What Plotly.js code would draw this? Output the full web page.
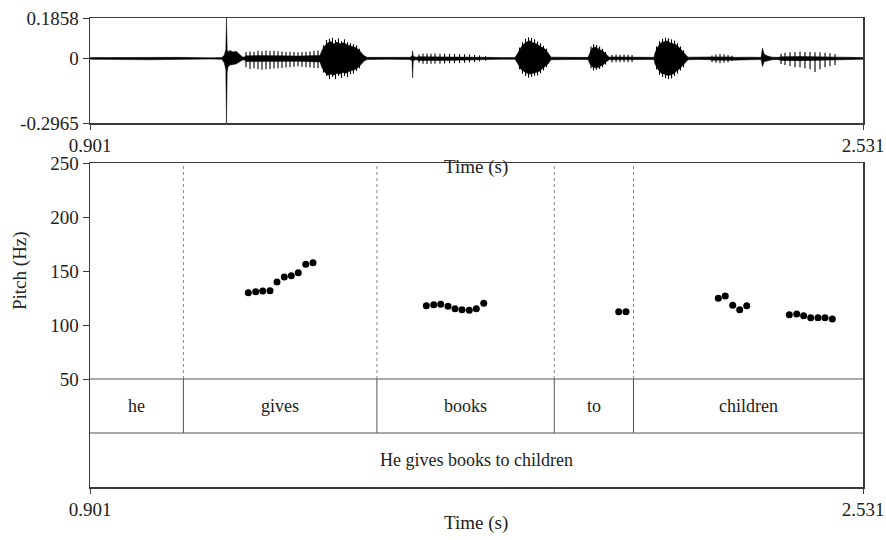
<!DOCTYPE html>
<html>
<head>
<meta charset="utf-8">
<script src="https://cdn.plot.ly/plotly-3.0.1.min.js"></script>
<style>
  html, body { margin: 0; padding: 0; background: #fff; }
  #chart { width: 886px; height: 540px; }
</style>
</head>
<body>
<div id="chart"></div>
<script>
// Time window of the excerpt (s)
const tStart = 0.901;
const tEnd = 2.531;

// Waveform core envelope: time (s), upper and lower extremes
const envT = [
  0.901, 0.964, 1.028, 1.091, 1.154, 1.179,
  1.184, 1.1874, 1.1888, 1.1903, 1.192,
  1.196, 1.203, 1.209, 1.215, 1.222,
  1.2257, 1.2300, 1.2600, 1.3000, 1.3400, 1.3859,
  1.3902, 1.3965, 1.4028, 1.4091, 1.4155, 1.4218, 1.4281, 1.4344, 1.4408, 1.4471,
  1.4534, 1.4598, 1.4661, 1.4724, 1.4787, 1.4851,
  1.5336, 1.5758, 1.5800, 1.5813, 1.5827,
  1.5884, 1.5947, 1.6500, 1.7350, 1.7435,
  1.7655, 1.7972,
  1.8035, 1.8099, 1.8162, 1.8225, 1.8288, 1.8352, 1.8415, 1.8478, 1.8541, 1.8605, 1.8668, 1.8731,
  1.9132, 1.9512,
  1.9554, 1.9596, 1.9660, 1.9723, 1.9786, 1.9849, 1.9913, 1.9955,
  2.0018, 2.0440, 2.0482,
  2.0713, 2.0903,
  2.0924, 2.0987, 2.1051, 2.1114, 2.1177, 2.1241, 2.1304, 2.1367, 2.1430, 2.1494, 2.1557, 2.1620,
  2.1852,
  2.2084, 2.2126, 2.2548, 2.2611,
  2.2928, 2.3160,
  2.3191, 2.3223, 2.3286, 2.3392,
  2.3518, 2.3581, 2.4000, 2.4298, 2.4720, 2.4783, 2.4867, 2.5078, 2.531
];
const envHi = [
  0.004, 0.005, 0.006, 0.005, 0.003, 0.004,
  0.015, 0.040, 0.1858, 0.040, 0.030,
  0.036, 0.030, 0.033, 0.022, 0.008,
  0.006, 0.012, 0.013, 0.012, 0.011, 0.014,
  0.038, 0.060, 0.072, 0.078, 0.066, 0.075, 0.068, 0.072, 0.064, 0.060,
  0.055, 0.051, 0.043, 0.030, 0.013, 0.005,
  0.004, 0.005, 0.010, 0.035, 0.010,
  0.006, 0.008, 0.008, 0.007, 0.005,
  0.004, 0.004,
  0.026, 0.051, 0.068, 0.077, 0.081, 0.072, 0.068, 0.060, 0.051, 0.043, 0.026, 0.006,
  0.005, 0.005,
  0.026, 0.047, 0.053, 0.047, 0.038, 0.030, 0.013, 0.006,
  0.007, 0.007, 0.005,
  0.005, 0.005,
  0.026, 0.055, 0.072, 0.077, 0.081, 0.072, 0.068, 0.064, 0.051, 0.038, 0.021, 0.006,
  0.005,
  0.006, 0.007, 0.007, 0.005,
  0.006, 0.005,
  0.048, 0.020, 0.012, 0.006,
  0.005, 0.008, 0.009, 0.009, 0.008, 0.006, 0.006, 0.005, 0.004
];
const envLo = [
  -0.004, -0.005, -0.006, -0.005, -0.003, -0.004,
  -0.020, -0.050, -0.2965, -0.060, -0.040,
  -0.030, -0.028, -0.025, -0.018, -0.008,
  -0.006, -0.014, -0.015, -0.014, -0.013, -0.016,
  -0.043, -0.064, -0.077, -0.072, -0.077, -0.068, -0.072, -0.064, -0.068, -0.060,
  -0.055, -0.051, -0.043, -0.030, -0.013, -0.005,
  -0.004, -0.005, -0.010, -0.090, -0.010,
  -0.006, -0.009, -0.009, -0.008, -0.005,
  -0.004, -0.004,
  -0.026, -0.051, -0.060, -0.068, -0.072, -0.068, -0.064, -0.060, -0.051, -0.038, -0.026, -0.006,
  -0.005, -0.005,
  -0.026, -0.038, -0.043, -0.041, -0.034, -0.026, -0.013, -0.006,
  -0.007, -0.007, -0.005,
  -0.005, -0.005,
  -0.026, -0.051, -0.068, -0.072, -0.077, -0.077, -0.072, -0.060, -0.051, -0.038, -0.021, -0.006,
  -0.005,
  -0.006, -0.008, -0.008, -0.005,
  -0.006, -0.005,
  -0.038, -0.015, -0.010, -0.006,
  -0.005, -0.009, -0.010, -0.010, -0.009, -0.006, -0.006, -0.005, -0.004
];

// Individual peaks standing out of the envelope: time (s), upper and lower peak
const pulseT = [
  1.2300, 1.2384, 1.2468, 1.2553, 1.2637, 1.2721, 1.2806, 1.2890, 1.2974, 1.3058,
  1.3143, 1.3227, 1.3311, 1.3395, 1.3480, 1.3564, 1.3648, 1.3733, 1.3817,
  1.3933, 1.3997, 1.4060, 1.4123, 1.4187, 1.4250, 1.4313, 1.4376, 1.4440, 1.4503,
  1.4566, 1.4630, 1.4693,
  1.5947, 1.6032, 1.6116, 1.6201, 1.6285, 1.6390, 1.6486, 1.6591, 1.6697, 1.6802,
  1.6908, 1.7013, 1.7118, 1.7224, 1.7350,
  1.8067, 1.8130, 1.8194, 1.8257, 1.8320, 1.8384, 1.8447, 1.8510, 1.8573, 1.8637,
  1.9575, 1.9628, 1.9692, 1.9755, 1.9818, 1.9881,
  2.0018, 2.0103, 2.0187, 2.0271, 2.0356, 2.0440,
  2.0956, 2.1019, 2.1083, 2.1146, 2.1209, 2.1273, 2.1336, 2.1399, 2.1462, 2.1526,
  2.2126, 2.2210, 2.2295, 2.2379, 2.2464, 2.2548,
  2.3581, 2.3665, 2.3771, 2.3876, 2.3982, 2.4087, 2.4193, 2.4298, 2.4403, 2.4509,
  2.4614, 2.4720
];
const pulseHi = [
  0.028, 0.032, 0.030, 0.035, 0.033, 0.036, 0.034, 0.035, 0.033, 0.032,
  0.030, 0.031, 0.030, 0.029, 0.030, 0.031, 0.032, 0.034, 0.036,
  0.060, 0.085, 0.090, 0.095, 0.085, 0.092, 0.080, 0.088, 0.075, 0.070,
  0.066, 0.060, 0.045,
  0.018, 0.022, 0.023, 0.022, 0.023, 0.022, 0.022, 0.021, 0.021, 0.020,
  0.019, 0.018, 0.016, 0.014, 0.010,
  0.050, 0.075, 0.090, 0.097, 0.094, 0.088, 0.078, 0.070, 0.058, 0.045,
  0.055, 0.065, 0.062, 0.055, 0.045, 0.030,
  0.016, 0.018, 0.017, 0.018, 0.017, 0.016,
  0.055, 0.080, 0.090, 0.095, 0.093, 0.088, 0.082, 0.070, 0.055, 0.038,
  0.014, 0.018, 0.020, 0.019, 0.016, 0.012,
  0.022, 0.026, 0.028, 0.030, 0.032, 0.030, 0.030, 0.029, 0.028, 0.026,
  0.024, 0.020
];
const pulseLo = [
  -0.040, -0.048, -0.045, -0.050, -0.052, -0.050, -0.048, -0.046, -0.045, -0.044,
  -0.042, -0.040, -0.038, -0.036, -0.038, -0.040, -0.042, -0.044, -0.045,
  -0.065, -0.080, -0.095, -0.085, -0.095, -0.080, -0.090, -0.080, -0.085, -0.072,
  -0.070, -0.058, -0.045,
  -0.020, -0.024, -0.025, -0.024, -0.024, -0.024, -0.023, -0.022, -0.022, -0.021,
  -0.020, -0.018, -0.016, -0.013, -0.010,
  -0.050, -0.070, -0.080, -0.088, -0.085, -0.080, -0.078, -0.068, -0.055, -0.040,
  -0.045, -0.055, -0.052, -0.048, -0.040, -0.028,
  -0.018, -0.018, -0.017, -0.018, -0.017, -0.016,
  -0.050, -0.075, -0.085, -0.090, -0.095, -0.092, -0.080, -0.070, -0.055, -0.040,
  -0.016, -0.020, -0.022, -0.020, -0.018, -0.012,
  -0.025, -0.030, -0.035, -0.040, -0.040, -0.045, -0.050, -0.062, -0.050, -0.040,
  -0.035, -0.030
];
const waveTicks = [-0.2965, 0, 0.1858];

// Pitch track (Hz)
const pitchT = [1.2348, 1.2504, 1.2652, 1.2806, 1.2953, 1.3107, 1.3255, 1.3402, 1.3559, 1.3712,
  1.6102, 1.6258, 1.6405, 1.6559, 1.6707, 1.6854, 1.7008, 1.7156, 1.7312,
  2.0159, 2.0312,
  2.2259, 2.2406, 2.2563, 2.2710, 2.2858,
  2.3756, 2.3912, 2.4058, 2.4207, 2.4361, 2.4508, 2.4663];
const pitchHz = [129.9, 130.8, 131.5, 131.8, 139.8, 144.4, 145.6, 148.4, 156.2, 157.7,
  117.9, 118.8, 119.2, 117.3, 115.1, 114.2, 113.6, 115.1, 120.1,
  112.3, 112.3,
  124.7, 126.9, 118.2, 114.2, 117.9,
  109.5, 110.2, 108.6, 106.8, 106.8, 106.8, 105.6];
const pitchTicks = [50, 100, 150, 200, 250];

// Word tier and sentence tier
const words = ['he', 'gives', 'books', 'to', 'children'];
const wordBounds = [0.901, 1.098, 1.506, 1.880, 2.047, 2.531];
const sentence = 'He gives books to children';

const FONT = "'Liberation Serif', 'Times New Roman', Times, serif";
const INK = '#222';
const FRAME = '#3a3a3a';

// Filled envelope polygon: upper edge forward, lower edge back
const polyX = envT.concat(envT.slice().reverse());
const polyY = envHi.concat(envLo.slice().reverse());

// Peaks as vertical strokes, separated by gaps
const pulseX = [], pulseY = [];
pulseT.forEach((t, i) => {
  pulseX.push(t, t, null);
  pulseY.push(pulseLo[i], pulseHi[i], null);
});

const traces = [
  {
    x: polyX, y: polyY, xaxis: 'x', yaxis: 'y',
    type: 'scatter', mode: 'lines', fill: 'toself',
    fillcolor: '#000', line: {color: '#000', width: 0.5},
    hoverinfo: 'skip', showlegend: false
  },
  {
    x: pulseX, y: pulseY, xaxis: 'x', yaxis: 'y',
    type: 'scatter', mode: 'lines', connectgaps: false,
    line: {color: '#000', width: 1.1},
    hoverinfo: 'skip', showlegend: false
  },
  {
    x: pitchT, y: pitchHz, xaxis: 'x2', yaxis: 'y2',
    type: 'scatter', mode: 'markers',
    marker: {color: '#000', size: 7},
    showlegend: false
  }
];

const shapes = [];
const annotations = [];

// Tier separators: 50 Hz line and the line between word and sentence tiers
[50, 0].forEach(v => shapes.push({
  type: 'line', xref: 'x2', yref: 'y2', x0: tStart, x1: tEnd, y0: v, y1: v,
  line: {color: '#555', width: 1}
}));

// Word boundaries: dotted through pitch area, solid in the word tier
wordBounds.slice(1, -1).forEach(b => {
  shapes.push({
    type: 'line', xref: 'x2', yref: 'y2', x0: b, x1: b, y0: 50, y1: 250,
    line: {color: '#888', width: 1, dash: 'dot'}
  });
  shapes.push({
    type: 'line', xref: 'x2', yref: 'y2', x0: b, x1: b, y0: 0, y1: 50,
    line: {color: '#555', width: 1}
  });
});

words.forEach((w, i) => annotations.push({
  x: (wordBounds[i] + wordBounds[i + 1]) / 2, y: 25, xref: 'x2', yref: 'y2',
  xanchor: 'center', yanchor: 'middle',
  text: w, showarrow: false, font: {family: FONT, size: 18, color: INK}
}));
annotations.push({
  x: (tStart + tEnd) / 2, y: -25, xref: 'x2', yref: 'y2',
  xanchor: 'center', yanchor: 'middle',
  text: sentence, showarrow: false, font: {family: FONT, size: 18, color: INK}
});

// Axis titles
annotations.push({
  x: 0.5378, y: 1 - 167 / 540, xref: 'paper', yref: 'paper',
  xanchor: 'center', yanchor: 'middle',
  text: 'Time (s)', showarrow: false, font: {family: FONT, size: 19, color: INK}
});
annotations.push({
  x: 0.5378, y: 1 - 523 / 540, xref: 'paper', yref: 'paper',
  xanchor: 'center', yanchor: 'middle',
  text: 'Time (s)', showarrow: false, font: {family: FONT, size: 19, color: INK}
});
annotations.push({
  x: 20 / 886, y: 1 - 271 / 540, xref: 'paper', yref: 'paper',
  xanchor: 'center', yanchor: 'middle',
  text: 'Pitch (Hz)', textangle: -90, showarrow: false,
  font: {family: FONT, size: 19, color: INK}
});

const xDomain = [90 / 886, 863 / 886];
const tickFont = {family: FONT, size: 19, color: INK};
const commonX = {
  domain: xDomain, range: [tStart, tEnd],
  tickvals: [tStart, tEnd], ticktext: ['0.901', '2.531'],
  ticks: 'outside', ticklen: 5, tickcolor: FRAME, tickwidth: 1,
  showline: true, mirror: true, linecolor: FRAME, linewidth: 1.5,
  showgrid: false, zeroline: false, tickfont: tickFont, fixedrange: true
};

const layout = {
  width: 886, height: 540,
  margin: {l: 0, r: 0, t: 0, b: 0},
  paper_bgcolor: '#fff', plot_bgcolor: '#fff',
  font: {family: FONT, color: INK},
  showlegend: false,
  xaxis: Object.assign({}, commonX, {anchor: 'y'}),
  yaxis: {
    domain: [1 - 123 / 540, 1 - 18 / 540], range: [-0.2965, 0.1858], anchor: 'x',
    tickvals: waveTicks, ticktext: ['-0.2965', '0', '0.1858'],
    ticks: 'outside', ticklen: 6, tickcolor: FRAME, tickwidth: 1,
    showline: true, mirror: true, linecolor: FRAME, linewidth: 1.5,
    showgrid: false, zeroline: false, tickfont: tickFont, fixedrange: true
  },
  xaxis2: Object.assign({}, commonX, {anchor: 'y2'}),
  yaxis2: {
    domain: [1 - 487 / 540, 1 - 163 / 540], range: [-50, 250], anchor: 'x2',
    tickvals: pitchTicks,
    ticks: 'outside', ticklen: 6, tickcolor: FRAME, tickwidth: 1,
    showline: true, mirror: true, linecolor: FRAME, linewidth: 1.5,
    showgrid: false, zeroline: false, tickfont: tickFont, fixedrange: true
  },
  shapes: shapes,
  annotations: annotations
};

Plotly.newPlot('chart', traces, layout, {displayModeBar: false, staticPlot: true});
</script>
</body>
</html>
